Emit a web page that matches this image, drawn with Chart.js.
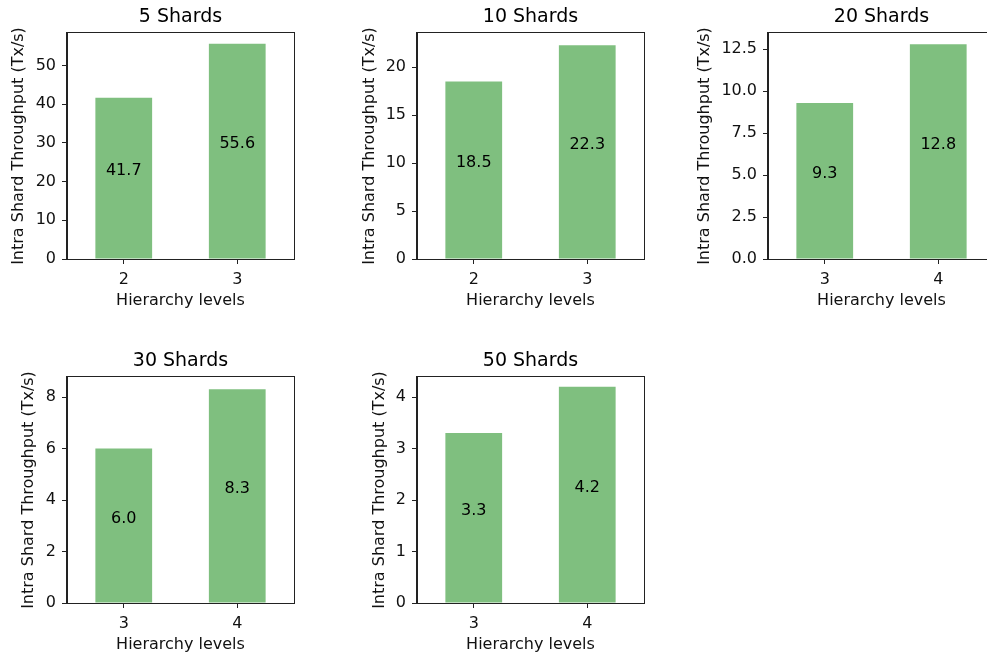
<!DOCTYPE html>
<html>
<head>
<meta charset="utf-8">
<title>Intra Shard Throughput</title>
<script src="https://cdn.jsdelivr.net/npm/chart.js@4.4.1/dist/chart.umd.min.js"></script>
<style>
  html, body { margin: 0; padding: 0; background: #fff; overflow: hidden; }
  #figure { position: relative; width: 987px; height: 657px; overflow: hidden; }
  #figure canvas { position: absolute; }
</style>
</head>
<body>
<div id="figure"></div>
<script>
// Throughput per hierarchy level, one panel per shard count
const titles = ['5 Shards', '10 Shards', '20 Shards', '30 Shards', '50 Shards'];
const levels = [['2', '3'], ['2', '3'], ['3', '4'], ['3', '4'], ['3', '4']];
const throughput = [
    [41.7, 55.6],
    [18.5, 22.3],
    [9.3, 12.8],
    [6.0, 8.3],
    [3.3, 4.2]
];
const yTicks = [
    [0, 10, 20, 30, 40, 50],
    [0, 5, 10, 15, 20],
    [0, 2.5, 5, 7.5, 10, 12.5],
    [0, 2, 4, 6, 8],
    [0, 1, 2, 3, 4]
];
const yTickDigits = [0, 0, 1, 0, 0];
const yLimits = [58.4, 23.57, 13.47, 8.78, 4.39];

// where each plot area sits on the page, and how wide its y axis is
const panels = [
    { left: 67,  top: 33,  axisW: 58 },
    { left: 417, top: 33,  axisW: 57 },
    { left: 768, top: 33,  axisW: 73 },
    { left: 67,  top: 377, axisW: 48 },
    { left: 417, top: 377, axisW: 47 }
];
const plotW = 227, plotH = 226, topPad = 33, xAxisH = 51, rightPad = 2;

Chart.defaults.font.family = "'DejaVu Sans', sans-serif";
Chart.defaults.color = '#111';

// frame around the plot area plus the centred panel title
const framePlugin = {
    id: 'frame',
    afterDraw(chart, args, opts) {
        const { ctx, chartArea: a } = chart;
        ctx.save();
        ctx.strokeStyle = '#222';
        ctx.lineWidth = 1;
        ctx.strokeRect(Math.round(a.left) - 0.5, Math.round(a.top) - 0.5,
            Math.round(a.right - a.left) + 1, Math.round(a.bottom - a.top) + 1);
        ctx.fillStyle = '#000';
        ctx.font = "19px 'DejaVu Sans', sans-serif";
        ctx.textAlign = 'center';
        ctx.textBaseline = 'alphabetic';
        ctx.fillText(opts.text, (a.left + a.right) / 2, a.top - 11);
        ctx.restore();
    }
};

// value written halfway up each bar
const barLabels = {
    id: 'barLabels',
    afterDatasetsDraw(chart) {
        const { ctx } = chart;
        const y = chart.scales.y;
        const ds = chart.data.datasets[0];
        ctx.save();
        ctx.fillStyle = '#000';
        ctx.font = "16px 'DejaVu Sans', sans-serif";
        ctx.textAlign = 'center';
        ctx.textBaseline = 'alphabetic';
        chart.getDatasetMeta(0).data.forEach((bar, i) => {
            const v = ds.data[i];
            ctx.fillText(v.toFixed(1), bar.x, y.getPixelForValue(v / 2) - 3);
        });
        ctx.restore();
    }
};

const figure = document.getElementById('figure');

titles.forEach((title, i) => {
    const p = panels[i];
    const canvas = document.createElement('canvas');
    canvas.width = p.axisW + plotW + rightPad;
    canvas.height = topPad + plotH + xAxisH;
    canvas.style.left = (p.left - p.axisW) + 'px';
    canvas.style.top = (p.top - topPad) + 'px';
    figure.appendChild(canvas);

    new Chart(canvas, {
        type: 'bar',
        data: {
            labels: levels[i],
            datasets: [{
                data: throughput[i],
                backgroundColor: 'rgba(0, 128, 0, 0.5)',
                borderWidth: 0,
                categoryPercentage: 1,
                barPercentage: 0.5
            }]
        },
        options: {
            responsive: false,
            animation: false,
            layout: { padding: { top: topPad, right: rightPad, left: 0, bottom: 0 } },
            plugins: {
                legend: { display: false },
                tooltip: { enabled: false },
                frame: { text: title }
            },
            scales: {
                x: {
                    offset: true,
                    grid: { offset: false, drawOnChartArea: false, drawTicks: true, tickLength: 5, tickColor: '#222' },
                    border: { color: '#222', width: 1 },
                    ticks: { font: { size: 16 }, padding: 6, maxRotation: 0 },
                    title: { display: true, text: 'Hierarchy levels', font: { size: 16 }, padding: 0, color: '#111' },
                    afterFit(scale) { scale.height = xAxisH; }
                },
                y: {
                    min: 0,
                    max: yLimits[i],
                    grid: { drawOnChartArea: false, drawTicks: true, tickLength: 5, tickColor: '#222' },
                    border: { color: '#222', width: 1 },
                    ticks: {
                        font: { size: 16 },
                        padding: 6,
                        callback: v => v.toFixed(yTickDigits[i])
                    },
                    afterBuildTicks(scale) {
                        scale.ticks = yTicks[i].map(v => ({ value: v }));
                    },
                    title: { display: true, text: 'Intra Shard Throughput (Tx/s)', font: { size: 16 }, padding: 0, color: '#111' },
                    afterFit(scale) { scale.width = p.axisW; }
                }
            }
        },
        plugins: [framePlugin, barLabels]
    });
});
</script>
</body>
</html>
